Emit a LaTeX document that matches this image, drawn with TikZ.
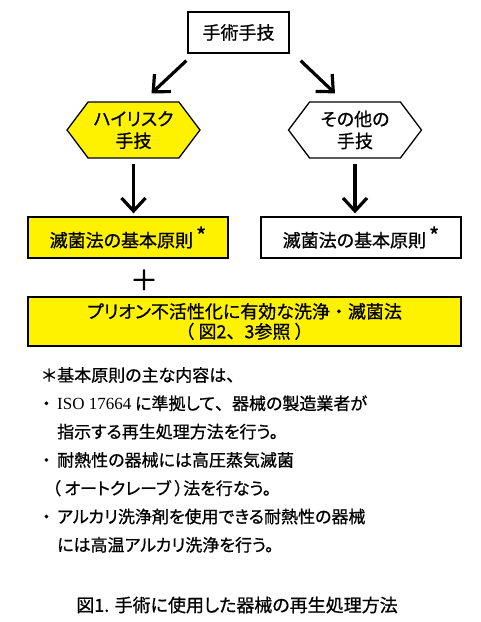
\documentclass[tikz,border=0pt]{standalone}
\usepackage{fontspec}
\setmainfont{Noto Sans CJK JP}[RawFeature=+palt, FakeBold=0.8, AutoFakeBold=0.8]
\newfontfamily\jpfw{Noto Sans CJK JP}[FakeBold=0.8, AutoFakeBold=0.8]
\newfontfamily\latinserif{Liberation Serif}
\usetikzlibrary{shapes.symbols,arrows.meta}
\newcommand{\lead}[1]{\makebox[15pt][l]{#1}}
\newcommand{\notemark}{\,\raisebox{3pt}{\fontsize{22}{22}\selectfont *}}

\begin{document}
\begin{tikzpicture}[x=1pt,y=-1pt,
	box/.style={draw, line width=1.3pt, minimum height=41pt, inner sep=0pt, font=\fontsize{18}{22}\selectfont},
	hexa/.style={draw, line width=1.3pt, signal, signal to=west and east, signal pointer angle=106,
		minimum width=133pt, minimum height=56pt, inner sep=0pt, align=center, font=\fontsize{18}{22}\selectfont},
	bigarrow/.style={line width=3.2pt, -{Straight Barb[length=13pt,width=24pt,line width=3.2pt]}}]
	\useasboundingbox (0,0) rectangle (480,622);

	\node[box, minimum width=101pt] at (238.5,32.5) (tech) {手術手技};

	\node[hexa, fill=yellow] at (133.5,130) (highrisk) {ハイリスク\\手技};
	\node[hexa]              at (355,130)   (other)    {その他の\\手技};

	\node[box, fill=yellow, minimum width=200pt] at (128,237.5) (basicL) {滅菌法の基本原則\notemark};
	\node[box, minimum width=200pt]              at (361,237.5) (basicR) {滅菌法の基本原則\notemark};

	\node[font=\fontsize{28}{28}\selectfont] at (144,280) (plus) {＋};

	\node[box, fill=yellow, minimum width=433pt, minimum height=49pt, align=center,
		font=\fontsize{18}{20}\selectfont] at (244.5,321.5) (prion)
		{プリオン不活性化に有効な洗浄{\jpfw ・}滅菌法\\{\jpfw （}\hspace{4pt}図2{\jpfw 、}3参照\hspace{4pt}{\jpfw ）}};

	% draw arrows
	\draw[bigarrow] ([xshift=-1pt,yshift=-7pt]tech.south west) -- ([xshift=18pt,yshift=8pt]highrisk.north);
	\draw[bigarrow] ([xshift=11pt,yshift=-7pt]tech.south east) -- ([xshift=-20pt,yshift=8pt]other.north);
	\draw[bigarrow, shorten <=5pt, shorten >=3pt] (highrisk.south) -- (highrisk.south |- basicL.north);
	\draw[bigarrow, shorten <=5pt, shorten >=3pt] (other.south) -- (other.south |- basicR.north);

	% notes
	\node[anchor=north west, inner sep=0pt, align=left, font=\fontsize{17}{28.3}\selectfont] at (42,367) (notes)
		{\lead{＊}基本原則の主な内容は{\jpfw 、}\\
		\lead{・}{\latinserif ISO 17664} に準拠して{\jpfw 、}器械の製造業者が\\
		\lead{}指示する再生処理方法を行う。\\
		\lead{・}耐熱性の器械には高圧蒸気滅菌\\
		\hspace{10pt}（ オートクレーブ ）法を行なう。\\
		\lead{・}アルカリ洗浄剤を使用できる耐熱性の器械\\
		\lead{}には高温アルカリ洗浄を行う。};

	\node[font=\fontsize{18}{22}\selectfont] at (237,605) (caption) {図1. 手術に使用した器械の再生処理方法};
\end{tikzpicture}
\end{document}
